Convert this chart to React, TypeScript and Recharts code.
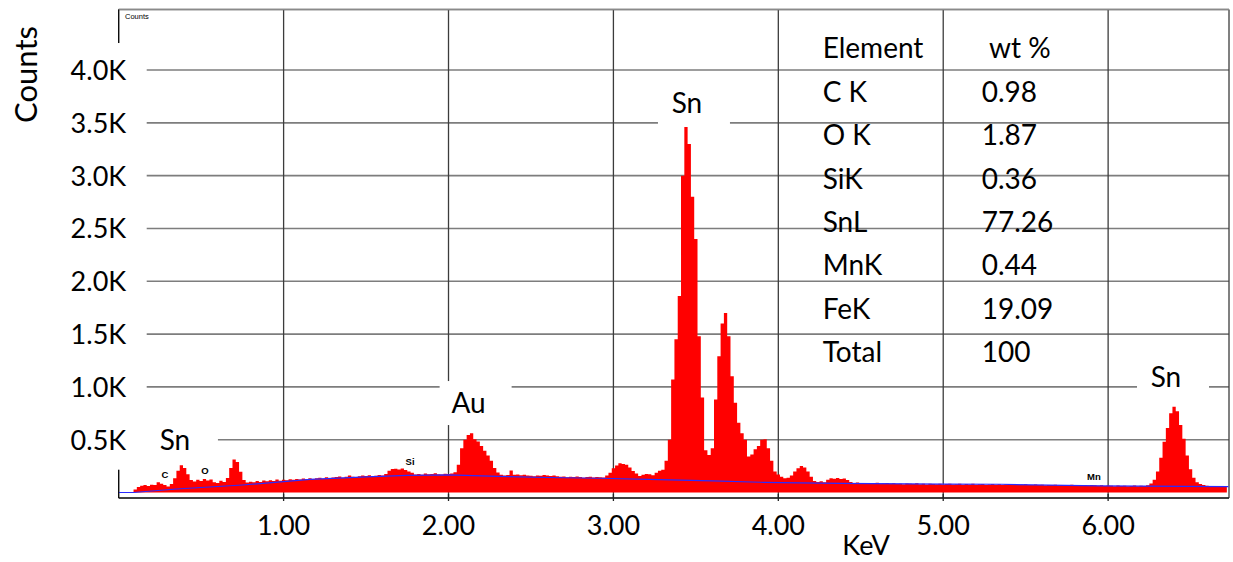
import React from "react";
import {
  ComposedChart,
  Area,
  Line,
  XAxis,
  YAxis,
  CartesianGrid,
  ReferenceLine,
  ReferenceDot,
} from "recharts";

const FONT = "Lato, 'Open Sans', sans-serif";

// EDS spectrum, one count value per 20 eV channel starting at 0 keV
const CHANNEL_KEV = 0.02;
const spectrumCounts = [
  0, 0, 0, 0, 4, 28, 52, 64, 70, 62,
  74, 70, 96, 82, 72, 58, 80, 135, 205, 258,
  232, 172, 118, 104, 120, 108, 128, 114, 122, 96,
  90, 112, 100, 138, 232, 312, 288, 196, 118, 94,
  102, 98, 110, 100, 114, 106, 116, 110, 122, 112,
  120, 116, 126, 120, 128, 122, 132, 126, 136, 128,
  134, 140, 130, 144, 136, 142, 146, 152, 140, 150,
  160, 150, 146, 154, 162, 156, 164, 150, 158, 166,
  160, 176, 206, 222, 226, 218, 228, 212, 200, 186,
  170, 176, 168, 180, 172, 176, 182, 172, 170, 178,
  176, 180, 192, 262, 420, 500, 545, 562, 505, 482,
  440, 396, 350, 300, 232, 190, 168, 160, 165, 208,
  168, 170, 164, 168, 160, 158, 154, 162, 158, 166,
  160, 156, 162, 154, 150, 152, 144, 150, 148, 152,
  146, 140, 146, 150, 142, 148, 144, 142, 160, 186,
  230, 256, 278, 270, 262, 236, 204, 180, 156, 168,
  176, 172, 164, 186, 206, 216, 300, 500, 1070, 1450,
  1860, 3000, 3460, 3300, 2800, 2400, 1480, 900, 400, 356,
  420, 880, 1290, 1600, 1700, 1480, 1100, 850, 660, 560,
  500, 340, 360, 410, 440, 500, 505, 420, 300, 200,
  170, 150, 136, 140, 160, 200, 230, 250, 236, 200,
  150, 110, 100, 106, 98, 120, 136, 130, 138, 128,
  132, 118, 100, 90, 95, 86, 90, 82, 88, 84,
  92, 80, 86, 90, 82, 88, 80, 84, 78, 86,
  82, 80, 88, 78, 82, 76, 84, 80, 78, 82,
  76, 80, 84, 76, 78, 82, 74, 80, 76, 82,
  74, 78, 80, 72, 76, 80, 74, 78, 72, 76,
  74, 70, 76, 72, 74, 78, 70, 72, 76, 70,
  74, 68, 72, 70, 74, 68, 72, 66, 70, 74,
  66, 70, 68, 72, 66, 70, 68, 64, 68, 62,
  66, 64, 60, 66, 62, 64, 60, 62, 66, 60,
  64, 62, 68, 85, 120, 200, 330, 480, 610, 750,
  812, 770, 640, 510, 350, 220, 140, 96, 80, 72,
  64, 60, 62, 58, 60, 56, 58,
];

// fitted bremsstrahlung background
const backgroundKev = [0, 0.09, 0.35, 0.75, 1.0, 1.16, 1.5, 1.75, 2.0, 2.3, 2.6, 2.92, 3.34, 3.6, 3.89, 4.37, 5.0, 5.35, 5.95, 6.73];
const backgroundCounts = [0, 0, 33, 71, 103, 125, 148, 163, 166, 152, 142, 135, 119, 110, 97, 87, 80, 78, 62, 55];

const kevTicks = [1, 2, 3, 4, 5, 6];
const countTicks = [500, 1000, 1500, 2000, 2500, 3000, 3500, 4000];

// big peak tags: name, energy, height of the tag
const peakNames = ["Sn", "Au", "Sn", "Sn"];
const peakKev = [0.341, 2.122, 3.446, 6.351];
const peakTagCounts = [497, 847, 3687, 1093];

// small line markers
const lineNames = ["C", "O", "Si", "Mn"];
const lineKev = [0.281, 0.523, 1.767, 5.914];
const lineTagCounts = [175, 213, 298, 151];

// quantification result
const elements = ["C K", "O K", "SiK", "SnL", "MnK", "FeK", "Total"];
const wtPercent = ["0.98", "1.87", "0.36", "77.26", "0.44", "19.09", "100"];

const spectrum = spectrumCounts.map((c, i) => ({
  kev: Math.round(i * CHANNEL_KEV * 100) / 100,
  counts: c,
}));
const background = backgroundKev.map((k, i) => ({ kev: k, counts: backgroundCounts[i] }));

const CountTick = (props: any) => {
  const { x, y, payload } = props;
  return (
    <g>
      <rect x={x - 75} y={y - 27} width={103} height={57} fill="#fff" />
      <text x={x + 7.5} y={y + 10} textAnchor="end" fontFamily={FONT} fontSize={27} fill="#000">
        {(payload.value / 1000).toFixed(1)}K
      </text>
    </g>
  );
};

const KevTick = (props: any) => {
  const { x, y, payload } = props;
  return (
    <g>
      <line x1={x} x2={x} y1={y - 4} y2={y + 3} stroke="#222" strokeWidth={1.3} />
      <text x={x} y={y + 37} textAnchor="middle" fontFamily={FONT} fontSize={27} fill="#000">
        {payload.value.toFixed(2)}
      </text>
    </g>
  );
};

const PeakTag = (props: any) => {
  const { cx, cy, text } = props;
  return (
    <g>
      <rect x={cx - 29} y={cy - 22} width={72} height={44} fill="#fff" />
      <text x={cx} y={cy + 10} textAnchor="middle" fontFamily={FONT} fontSize={28} fill="#000">
        {text}
      </text>
    </g>
  );
};

const LineTag = (props: any) => {
  const { cx, cy, text } = props;
  return (
    <text
      x={cx}
      y={cy + 3.5}
      textAnchor="middle"
      fontFamily="'Liberation Sans', Arial, sans-serif"
      fontWeight="bold"
      fontSize={9.5}
      fill="#000"
    >
      {text}
    </text>
  );
};

export default function App() {
  return (
    <div style={{ position: "relative", width: 1233, height: 562, background: "#fff" }}>
      <style>{`body{margin:0}`}</style>
      <ComposedChart
        width={1233}
        height={562}
        margin={{ top: 9.5, right: 4, bottom: 0, left: 0 }}
      >
        <CartesianGrid vertical={false} stroke="#7d7d7d" strokeWidth={1.6} />
        <CartesianGrid horizontal={false} stroke="#3c3c3c" strokeWidth={1.3} />
        <Area
          data={spectrum}
          dataKey="counts"
          type="step"
          fill="#ff0000"
          fillOpacity={1}
          stroke="none"
          baseValue={0}
          isAnimationActive={false}
        />
        <Line
          data={background}
          dataKey="counts"
          type="linear"
          stroke="#2b2bff"
          strokeWidth={1.2}
          dot={false}
          isAnimationActive={false}
        />
        <XAxis
          type="number"
          dataKey="kev"
          domain={[0, 6.733]}
          ticks={kevTicks}
          interval={0}
          allowDataOverflow
          height={64}
          tickSize={0}
          tickMargin={0}
          tickLine={false}
          axisLine={{ stroke: "#222", strokeWidth: 1.5 }}
          tick={<KevTick />}
        />
        <YAxis
          type="number"
          domain={[-52, 4573]}
          ticks={countTicks}
          interval={0}
          allowDataOverflow
          width={118.7}
          tickSize={0}
          tickMargin={0}
          tickLine={false}
          axisLine={{ stroke: "#000", strokeWidth: 1 }}
          tick={<CountTick />}
        />
        <ReferenceLine y={4573} stroke="#8a8a8a" strokeWidth={1.5} />
        {lineNames.map((n, i) => (
          <ReferenceDot
            key={"l" + i}
            x={lineKev[i]}
            y={lineTagCounts[i]}
            r={1}
            ifOverflow="visible"
            shape={(p: any) => <LineTag {...p} text={n} />}
          />
        ))}
        {peakNames.map((n, i) => (
          <ReferenceDot
            key={"p" + i}
            x={peakKev[i]}
            y={peakTagCounts[i]}
            r={1}
            ifOverflow="visible"
            shape={(p: any) => <PeakTag {...p} text={n} />}
          />
        ))}
      </ComposedChart>
      <svg
        width={1233}
        height={562}
        style={{ position: "absolute", left: 0, top: 0, pointerEvents: "none" }}
      >
        <text x={125} y={18.5} fontFamily="'Liberation Sans', Arial, sans-serif" fontSize={7.5} fill="#000">
          Counts
        </text>
        <text
          transform="translate(37 74.5) rotate(-90)"
          textAnchor="middle"
          fontFamily={FONT}
          fontSize={31}
          fill="#000"
        >
          Counts
        </text>
        <text x={866} y={555} textAnchor="middle" fontFamily={FONT} fontSize={27} fill="#000">
          KeV
        </text>
        <text x={822.7} y={57.5} fontFamily={FONT} fontSize={28} fill="#000">
          Element
        </text>
        <text x={989} y={57.5} fontFamily={FONT} fontSize={28} fill="#000">
          wt %
        </text>
        {elements.map((el, i) => (
          <g key={el}>
            <text x={822.7} y={101.8 + i * 43.35} fontFamily={FONT} fontSize={28} fill="#000">
              {el}
            </text>
            <text x={981.7} y={101.8 + i * 43.35} fontFamily={FONT} fontSize={28} fill="#000">
              {wtPercent[i]}
            </text>
          </g>
        ))}
      </svg>
    </div>
  );
}
